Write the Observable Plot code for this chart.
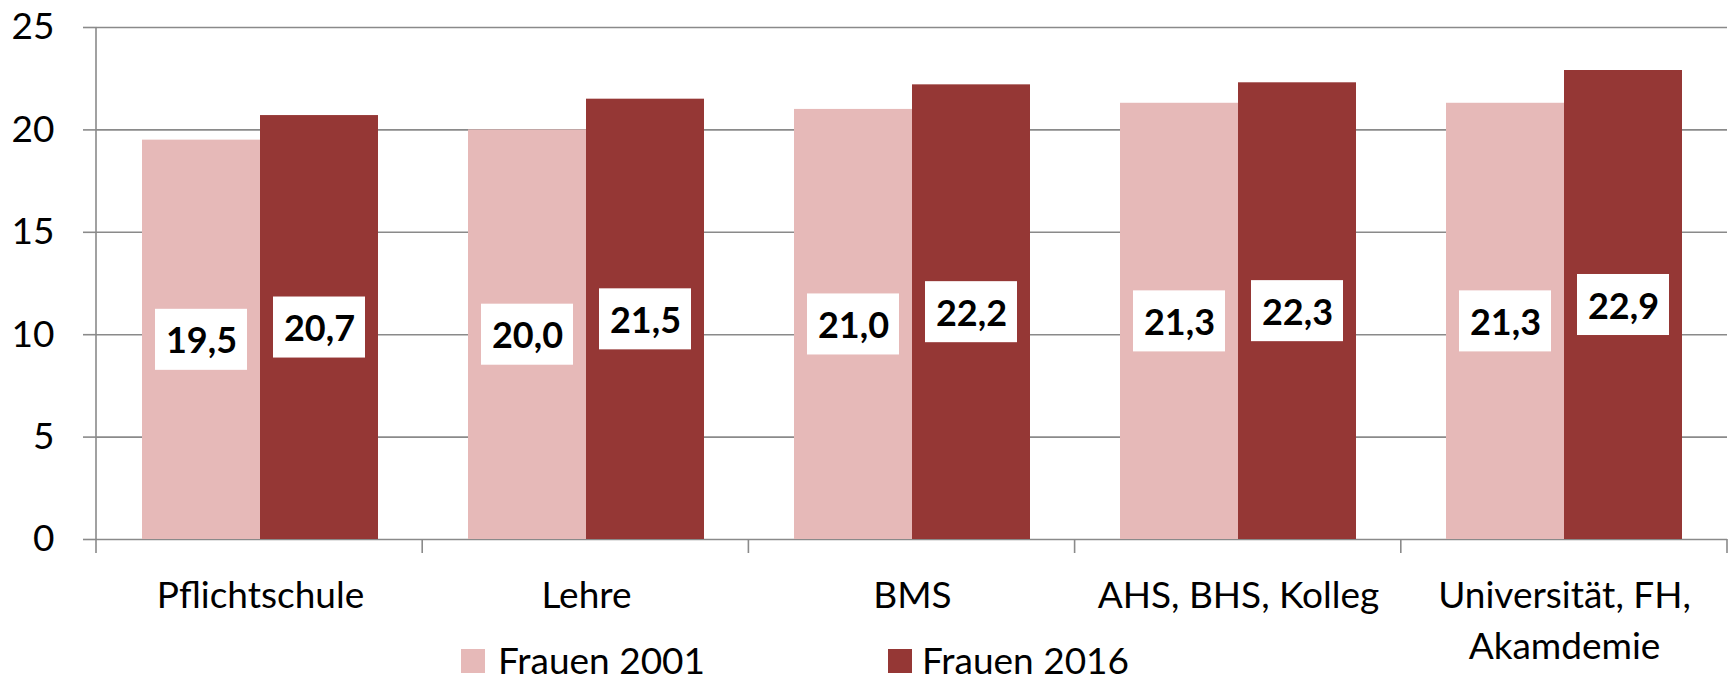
<!DOCTYPE html>
<html><head><meta charset="utf-8">
<script src="https://cdn.jsdelivr.net/npm/d3@7"></script>
<script src="https://cdn.jsdelivr.net/npm/@observablehq/plot@0.6"></script>
<style>
html,body{margin:0;padding:0;overflow:hidden;background:#fff;}
#wrap{position:relative;width:1729px;height:674px;font-family:Lato,sans-serif;}
.sw{position:absolute;width:24px;height:24px;}
.lt{position:absolute;font-size:37px;line-height:37px;color:#000;white-space:nowrap;}
</style></head><body><div id="wrap"></div>
<script>
const categories = ["Pflichtschule", "Lehre", "BMS", "AHS, BHS, Kolleg", "Universität, FH,\nAkamdemie"];
const series = ["Frauen 2001", "Frauen 2016"];
const values2001 = [19.5, 20.0, 21.0, 21.3, 21.3];
const values2016 = [20.7, 21.5, 22.2, 22.3, 22.9];
const yTicks = [0, 5, 10, 15, 20, 25];
const colors = ["#E6B9B8", "#953735"];

const data = categories.flatMap((c, i) => [
  {cat: c, s: series[0], v: values2001[i]},
  {cat: c, s: series[1], v: values2016[i]}
]);
const fmt = v => d3.format(".1f")(v).replace(".", ",");
const labelHalf = 1.49;
const grid = "#8a8a8a";

const plot = Plot.plot({
  width: 1729, height: 674,
  marginTop: 27, marginBottom: 135, marginLeft: 96, marginRight: 2,
  style: {fontFamily: "Lato, sans-serif", background: "#fff", color: "#000"},
  fx: {domain: categories, padding: 0, label: null},
  x: {domain: series, paddingInner: 0, paddingOuter: 0.376, axis: null},
  y: {domain: [0, 25], axis: null},
  color: {domain: series, range: colors},
  marks: [
    Plot.ruleY(yTicks, {stroke: grid, strokeWidth: 1.6}),
    Plot.barY(data, {fx: "cat", x: "s", y: "v", fill: "s"}),
    Plot.barY(data, {fx: "cat", x: "s", y1: d => d.v / 2 - labelHalf, y2: d => d.v / 2 + labelHalf, fill: "white", insetLeft: 13, insetRight: 13}),
    Plot.text(data, {fx: "cat", x: "s", y: d => d.v / 2, text: d => fmt(d.v), fontSize: 36, fontWeight: "bold", fill: "black", dy: 2}),
    Plot.axisY({ticks: yTicks, tickSize: 14, tickPadding: 29, fontSize: 37, stroke: grid, strokeWidth: 1.6, fill: "black", label: null, tickFormat: d => String(d)}),
    Plot.axisFx({anchor: "bottom", tickSize: 0, tickPadding: 33, fontSize: 37, lineHeight: 1.36, fill: "black", label: null})
  ]
});

// y axis line and category boundary ticks, placed through the plot's scales
const fxs = plot.scale("fx"), ys = plot.scale("y");
const r0 = fxs.range[0], r1 = fxs.range[1];
const step = (r1 - r0) / categories.length;
const y0 = ys.apply(0), yTop = ys.apply(25);
const svg = d3.select(plot);
svg.append("line").attr("x1", r0).attr("x2", r0).attr("y1", yTop).attr("y2", y0 + 14)
  .attr("stroke", grid).attr("stroke-width", 1.6);
for (let k = 1; k <= categories.length; k++) {
  const x = Math.min(r0 + k * step, 1727);
  svg.append("line").attr("x1", x).attr("x2", x).attr("y1", y0).attr("y2", y0 + 14)
    .attr("stroke", grid).attr("stroke-width", 1.6);
}

const wrap = document.getElementById("wrap");
wrap.appendChild(plot);

// legend
const legendPos = [{sw: 461, tx: 498}, {sw: 888, tx: 922}];
series.forEach((s, i) => {
  const sw = document.createElement("div");
  sw.className = "sw";
  sw.style.left = legendPos[i].sw + "px";
  sw.style.top = "649px";
  sw.style.background = colors[i];
  wrap.appendChild(sw);
  const t = document.createElement("div");
  t.className = "lt";
  t.style.left = legendPos[i].tx + "px";
  t.style.top = "641px";
  t.textContent = s;
  wrap.appendChild(t);
});
</script></body></html>
